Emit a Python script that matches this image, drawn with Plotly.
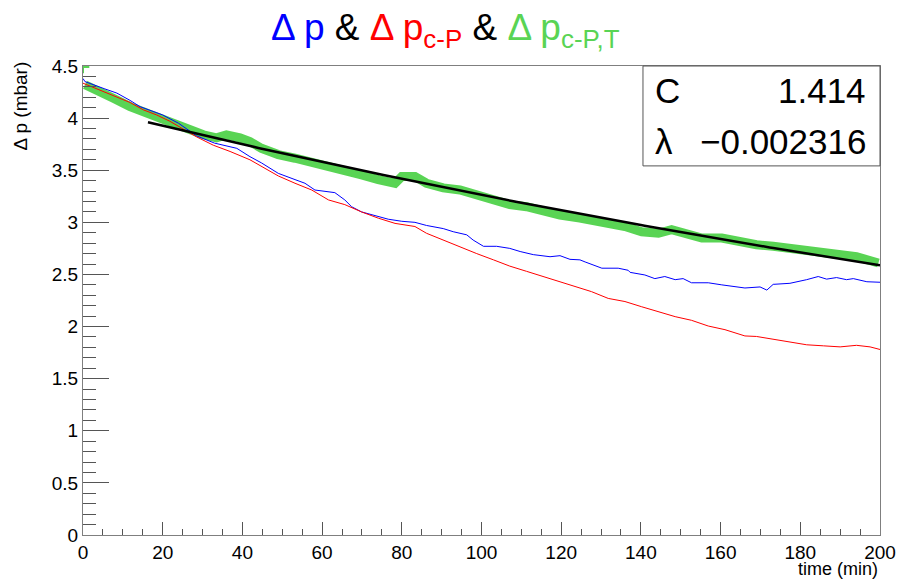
import numpy as np
import plotly.graph_objects as go

# Δp (raw), minutes vs mbar
blue_t = [0, 0.5, 5.5, 8.5, 11.8, 14.3, 20, 24, 28.5, 33, 38.6, 41.9, 44.8, 49, 53.2, 55.7, 58.2,
          60.7, 63.2, 65.7, 67.4, 69.9, 74.1, 76.6, 80, 83.3, 86.2, 90.4, 92.9, 96.3, 97.9,
          100.5, 103.8, 107.1, 109.7, 113, 117.2, 119.7, 122.2, 124.7, 126, 130.2, 134.3,
          136.8, 137.3, 141, 143.5, 146, 148.6, 150.6, 152.7, 156.9, 160.3, 166.1, 169.9,
          171.6, 173.2, 177.4, 181.6, 184.5, 186.6, 189.1, 191.6, 193.3, 196.7, 200]
blue_v = [4.38, 4.35, 4.28, 4.24, 4.17, 4.11, 4.03, 3.95, 3.83, 3.76, 3.71, 3.63, 3.57, 3.47, 3.41,
          3.375, 3.31, 3.30, 3.285, 3.215, 3.15, 3.10, 3.055, 3.03, 3.01, 3.00, 2.97, 2.94,
          2.91, 2.88, 2.83, 2.77, 2.77, 2.75, 2.72, 2.69, 2.67, 2.68, 2.645, 2.64, 2.62,
          2.56, 2.56, 2.54, 2.52, 2.495, 2.46, 2.48, 2.45, 2.46, 2.42, 2.42, 2.40, 2.37,
          2.38, 2.35, 2.405, 2.415, 2.45, 2.48, 2.455, 2.47, 2.45, 2.46, 2.43, 2.425]

# Δp corrected for p (c-P)
red_t = [0, 4.3, 7.6, 11.8, 15.1, 18.5, 21.8, 25.2, 28.5, 32.7, 36.9, 41.9, 44.8, 49, 53.2,
         57.4, 61.6, 65.7, 69.9, 74.1, 78.3, 83.3, 86.2, 90.4, 94.6, 98.8, 103, 107.1,
         111.3, 115.5, 119.7, 124.7, 127.6, 131.8, 136, 140.2, 144.4, 148.6, 152.7, 156.9,
         161.1, 166.1, 169, 173.2, 177.4, 181.6, 185.8, 190, 194.1, 197.5, 200]
red_v = [4.335, 4.27, 4.22, 4.15, 4.08, 4.03, 3.97, 3.89, 3.82, 3.74, 3.68, 3.60, 3.535, 3.445,
         3.375, 3.31, 3.215, 3.17, 3.10, 3.04, 2.99, 2.96, 2.895, 2.83, 2.76, 2.70, 2.64,
         2.58, 2.53, 2.48, 2.43, 2.37, 2.335, 2.27, 2.24, 2.19, 2.14, 2.095, 2.06, 2.005,
         1.97, 1.91, 1.905, 1.88, 1.855, 1.825, 1.815, 1.805, 1.82, 1.805, 1.78]

# Δp corrected for p and T (c-P,T)
green_t = [0, 0.5, 4.3, 7.6, 11.8, 16, 19.3, 22.7, 26, 30.2, 33.5, 36, 39.4, 41.9, 44.8, 49,
           53.2, 57.4, 61.6, 65.7, 69.9, 74.1, 78.3, 80, 83.3, 86.2, 90.4, 94.6, 98.8, 103,
           107.1, 111.3, 115.5, 119.7, 124.7, 127.6, 131.8, 136, 140.2, 144.4, 147.7, 151.1,
           155.3, 160.3, 166.1, 169, 173.2, 177.4, 181.6, 185.8, 190, 194.1, 199.6]
green_v = [4.49, 4.32, 4.24, 4.19, 4.11, 4.05, 3.98, 3.935, 3.89, 3.84, 3.81, 3.84, 3.81, 3.775,
           3.71, 3.65, 3.615, 3.58, 3.535, 3.50, 3.455, 3.41, 3.375, 3.44, 3.44, 3.375, 3.33,
           3.31, 3.26, 3.215, 3.17, 3.15, 3.10, 3.07, 3.04, 3.02, 2.975, 2.96, 2.91, 2.895,
           2.93, 2.895, 2.85, 2.85, 2.80, 2.785, 2.77, 2.75, 2.735, 2.72, 2.69, 2.67, 2.61]

# exponential fit exp(C + lambda*t) on the c-P,T series
fit_C = 1.414
fit_lambda = -0.002316
fit_range = (16.3, 200)

GREEN = "#59d454"
FONT = "Liberation Sans, Arial, Helvetica, sans-serif"

fig = go.Figure()

fig.add_trace(go.Scatter(x=green_t[1:], y=green_v[1:], mode="lines",
                         line=dict(color=GREEN, width=9), hoverinfo="skip"))
fig.add_trace(go.Scatter(x=green_t[:1], y=green_v[:1], mode="markers",
                         marker=dict(color=GREEN, symbol="cross-thin", size=9,
                                     line=dict(color=GREEN, width=2))))
fig.add_trace(go.Scatter(x=blue_t, y=blue_v, mode="lines",
                         line=dict(color="#0000ff", width=1)))
fig.add_trace(go.Scatter(x=red_t, y=red_v, mode="lines",
                         line=dict(color="#ff0000", width=1)))

fit_x = np.linspace(fit_range[0], fit_range[1], 200)
fit_y = np.exp(fit_C + fit_lambda * fit_x)
fig.add_trace(go.Scatter(x=fit_x, y=fit_y, mode="lines",
                         line=dict(color="black", width=2.5)))

title = ("<span style='color:#0000ff'>Δ p</span> &amp; "
         "<span style='color:#ff0000'>Δ p<sub>c-P</sub></span> &amp; "
         f"<span style='color:{GREEN}'>Δ p<sub>c-P,T</sub></span>")

fig.update_layout(
    width=898, height=581,
    margin=dict(l=83, r=18, t=66, b=46),
    paper_bgcolor="white", plot_bgcolor="white",
    showlegend=False,
    font=dict(family=FONT, color="black"),
    xaxis=dict(range=[0, 200], showgrid=False, zeroline=False, automargin=False,
               showline=True, linecolor="#7f7f7f", linewidth=1, mirror=True,
               ticks="inside", ticklen=13, tickcolor="#555", dtick=20, tick0=0,
               tickfont=dict(size=19), minor=dict(ticks="inside", ticklen=6, dtick=5,
                                                  tickcolor="#555")),
    yaxis=dict(range=[0, 4.5], showgrid=False, zeroline=False, automargin=False,
               showline=True, linecolor="#7f7f7f", linewidth=1, mirror=True,
               ticks="inside", ticklen=26, tickcolor="#555", dtick=0.5, tick0=0,
               tickfont=dict(size=19), minor=dict(ticks="inside", ticklen=13, dtick=0.1,
                                                  tickcolor="#555")),
)

# title above the frame
fig.add_annotation(text=title, xref="paper", yref="paper", x=(445 - 83) / 797, y=1 + 36 / 469,
                   xanchor="center", yanchor="middle", showarrow=False,
                   font=dict(size=37))

# axis titles placed at the axis ends
fig.add_annotation(text="Δ p (mbar)", xref="paper", yref="paper", x=-0.079, y=1.013,
                   xanchor="center", yanchor="top", textangle=-90, showarrow=False,
                   font=dict(size=19))
fig.add_annotation(text="time (min)", xref="paper", yref="paper", x=1.0, y=-0.046,
                   xanchor="right", yanchor="top", showarrow=False, font=dict(size=18))

# fit parameter box
fig.add_shape(type="rect", xref="paper", yref="paper", x0=0.7026, x1=1.0, y0=0.787, y1=1.0,
              fillcolor="white", line=dict(color="#555", width=1), layer="above")
for label, value, yc in [("C", f"{fit_C:.3f}", 0.947), ("λ", f"−{abs(fit_lambda):.6f}", 0.838)]:
    fig.add_annotation(text=label, xref="paper", yref="paper", x=0.715, y=yc,
                       xanchor="left", yanchor="middle", showarrow=False, font=dict(size=35))
    fig.add_annotation(text=value, xref="paper", yref="paper", x=0.985, y=yc,
                       xanchor="right", yanchor="middle", showarrow=False, font=dict(size=35))

fig.write_html("out.html")
